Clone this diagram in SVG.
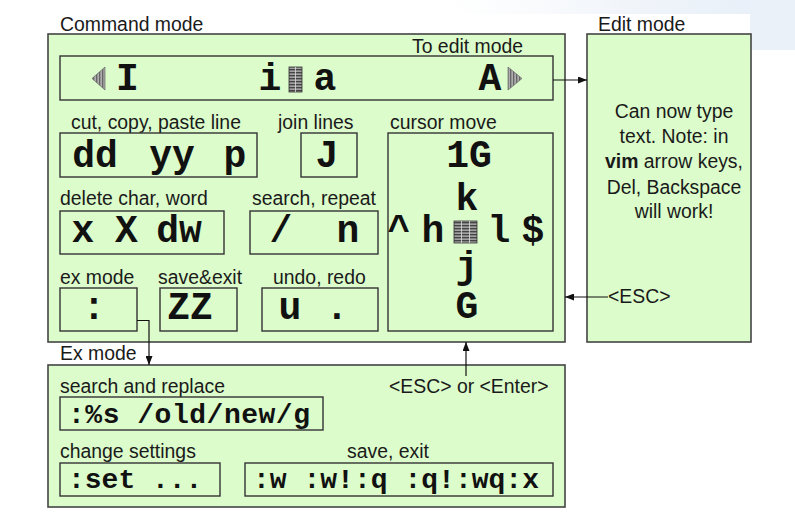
<svg xmlns="http://www.w3.org/2000/svg" width="795" height="521" viewBox="0 0 795 521">
<style>
.box{fill:#dcfccb;stroke:#444;stroke-width:1.6}
.inner{fill:#dcfccb;stroke:#333;stroke-width:1.4}
.lbl{font-family:"Liberation Sans",Arial,sans-serif;font-size:19.4px;fill:#1a1a1a}
.big{font-family:"Liberation Mono","Courier New",monospace;font-weight:bold;font-size:38px;fill:#111}
.mid{font-family:"Liberation Mono","Courier New",monospace;font-weight:bold;font-size:28px;fill:#111}
.con{stroke:#111;stroke-width:1.2;fill:none}
.mid-anchor{text-anchor:middle}
</style>
<defs>
<marker id="ah" markerWidth="9" markerHeight="7" refX="9" refY="3.5" orient="auto" markerUnits="userSpaceOnUse">
<path d="M0,0 L9,3.5 L0,7 z" fill="#111"/>
</marker>
<pattern id="stripe" width="4" height="3" patternUnits="userSpaceOnUse">
<rect width="4" height="3" fill="#444"/>
<rect y="1.6" width="4" height="1" fill="#ddd"/>
</pattern>
<pattern id="vstripe" width="3" height="4" patternUnits="userSpaceOnUse">
<rect width="3" height="4" fill="#666"/>
<rect x="1.6" width="1" height="4" fill="#ddd"/>
</pattern>
<linearGradient id="bg" x1="0" y1="0" x2="1" y2="0">
<stop offset="0" stop-color="#f4f7fb" stop-opacity="0"/>
<stop offset="0.5" stop-color="#f1f5fa"/>
<stop offset="1" stop-color="#e6eef8"/>
</linearGradient>
</defs>
<rect x="0" y="0" width="795" height="521" fill="#fff"/>
<rect x="450" y="0" width="345" height="14" fill="url(#bg)"/>
<rect x="750" y="0" width="45" height="50" fill="#eaf1f9"/>

<g id="command-mode">
<text class="lbl" x="60" y="31">Command mode</text>
<rect class="box" x="48" y="34" width="517" height="308"/>
<text class="lbl" x="412" y="53">To edit mode</text>
</g>

<g id="insert-row">
<rect class="inner" x="60" y="56" width="493" height="44"/>
<path d="M105,67 L92,78.5 L105,90 z" fill="url(#vstripe)" stroke="#555" stroke-width="0.6"/>
<text class="big mid-anchor" x="127.5" y="90">I</text>
<text class="big mid-anchor" x="270" y="90">i</text>
<rect x="289" y="67" width="13" height="25" fill="url(#stripe)" stroke="#333" stroke-width="0.8"/>
<line x1="295.5" y1="67" x2="295.5" y2="92" stroke="#ddd" stroke-width="0.8"/>
<text class="big mid-anchor" x="325" y="90">a</text>
<text class="big mid-anchor" x="490" y="90">A</text>
<path d="M508,67 L522,78.5 L508,90 z" fill="url(#vstripe)" stroke="#555" stroke-width="0.6"/>
</g>

<g id="cut-copy-paste">
<text class="lbl" x="71" y="129">cut, copy, paste line</text>
<rect class="inner" x="60" y="133" width="197" height="44"/>
<text class="big mid-anchor" x="95" y="167">dd</text>
<text class="big mid-anchor" x="172" y="167">yy</text>
<text class="big mid-anchor" x="235" y="167">p</text>
</g>

<g id="join-lines">
<text class="lbl" x="278" y="129">join lines</text>
<rect class="inner" x="301" y="133" width="56" height="44"/>
<text class="big mid-anchor" x="327" y="167">J</text>
</g>

<g id="cursor-move">
<text class="lbl" x="390" y="129">cursor move</text>
<rect class="inner" x="388" y="133" width="165" height="198"/>
<text class="big mid-anchor" x="469" y="167">1G</text>
<text class="big mid-anchor" x="467" y="210">k</text>
<text class="big mid-anchor" x="399" y="242">^</text>
<text class="big mid-anchor" x="433" y="242">h</text>
<rect x="454" y="221" width="23" height="22" fill="url(#stripe)" stroke="#333" stroke-width="0.8"/>
<line x1="461.5" y1="221" x2="461.5" y2="243" stroke="#ddd" stroke-width="0.8"/>
<line x1="469.5" y1="221" x2="469.5" y2="243" stroke="#ddd" stroke-width="0.8"/>
<text class="big mid-anchor" x="499" y="242">l</text>
<text class="big mid-anchor" x="533" y="242">$</text>
<text class="big mid-anchor" x="467" y="278">j</text>
<text class="big mid-anchor" x="467" y="318">G</text>
</g>

<g id="delete-char-word">
<text class="lbl" x="60" y="205">delete char, word</text>
<rect class="inner" x="60" y="211" width="164" height="43"/>
<text class="big mid-anchor" x="83" y="242">x</text>
<text class="big mid-anchor" x="126.5" y="242">X</text>
<text class="big mid-anchor" x="179" y="242">dw</text>
</g>

<g id="search-repeat">
<text class="lbl" x="252" y="205">search, repeat</text>
<rect class="inner" x="250" y="211" width="128" height="43"/>
<text class="big mid-anchor" x="281" y="242">/</text>
<text class="big mid-anchor" x="348" y="242">n</text>
</g>

<g id="ex-mode-key">
<text class="lbl" x="60" y="284">ex mode</text>
<rect class="inner" x="60" y="288" width="77" height="43"/>
<text class="big mid-anchor" x="94" y="319">:</text>
</g>

<g id="save-exit-key">
<text class="lbl" x="158" y="284">save&amp;exit</text>
<rect class="inner" x="160" y="288" width="77" height="43"/>
<text class="big mid-anchor" x="190" y="319">ZZ</text>
</g>

<g id="undo-redo">
<text class="lbl" x="273" y="284">undo, redo</text>
<rect class="inner" x="262" y="288" width="116" height="43"/>
<text class="big mid-anchor" x="290" y="319">u</text>
<text class="big mid-anchor" x="337" y="319">.</text>
</g>

<g id="edit-mode">
<text class="lbl" x="598" y="31">Edit mode</text>
<rect class="box" x="587" y="34" width="164" height="308"/>
<text class="lbl mid-anchor" x="674" y="118">Can now type</text>
<text class="lbl mid-anchor" x="674" y="143">text. Note: in</text>
<text class="lbl mid-anchor" x="674" y="168"><tspan font-weight="bold">vim</tspan> arrow keys,</text>
<text class="lbl mid-anchor" x="674" y="194">Del, Backspace</text>
<text class="lbl mid-anchor" x="674" y="218">will work!</text>
<text class="lbl" x="608" y="303">&lt;ESC&gt;</text>
</g>

<g id="ex-mode">
<text class="lbl" x="60" y="360">Ex mode</text>
<rect class="box" x="48" y="365" width="517" height="142"/>
<text class="lbl" x="389" y="393">&lt;ESC&gt; or &lt;Enter&gt;</text>
</g>

<g id="search-replace">
<text class="lbl" x="60" y="393">search and replace</text>
<rect class="inner" x="60" y="397" width="263" height="33"/>
<text class="mid" x="68" y="423" textLength="242">:%s /old/new/g</text>
</g>

<g id="change-settings">
<text class="lbl" x="60" y="458">change settings</text>
<rect class="inner" x="60" y="463" width="160" height="33"/>
<text class="mid" x="68" y="488">:set ...</text>
</g>

<g id="save-exit-cmds">
<text class="lbl" x="347" y="458">save, exit</text>
<rect class="inner" x="245" y="463" width="308" height="33"/>
<text class="mid" x="253" y="488" textLength="286">:w :w!:q :q!:wq:x</text>
</g>

<g id="connectors">
<line class="con" x1="553" y1="80" x2="587" y2="80" marker-end="url(#ah)"/>
<line class="con" x1="608" y1="297" x2="565" y2="297" marker-end="url(#ah)"/>
<polyline class="con" points="137,320.5 149,320.5 149,365" marker-end="url(#ah)"/>
<line class="con" x1="466" y1="376" x2="466" y2="342" stroke="#555" marker-end="url(#ah)"/>
</g>
</svg>
